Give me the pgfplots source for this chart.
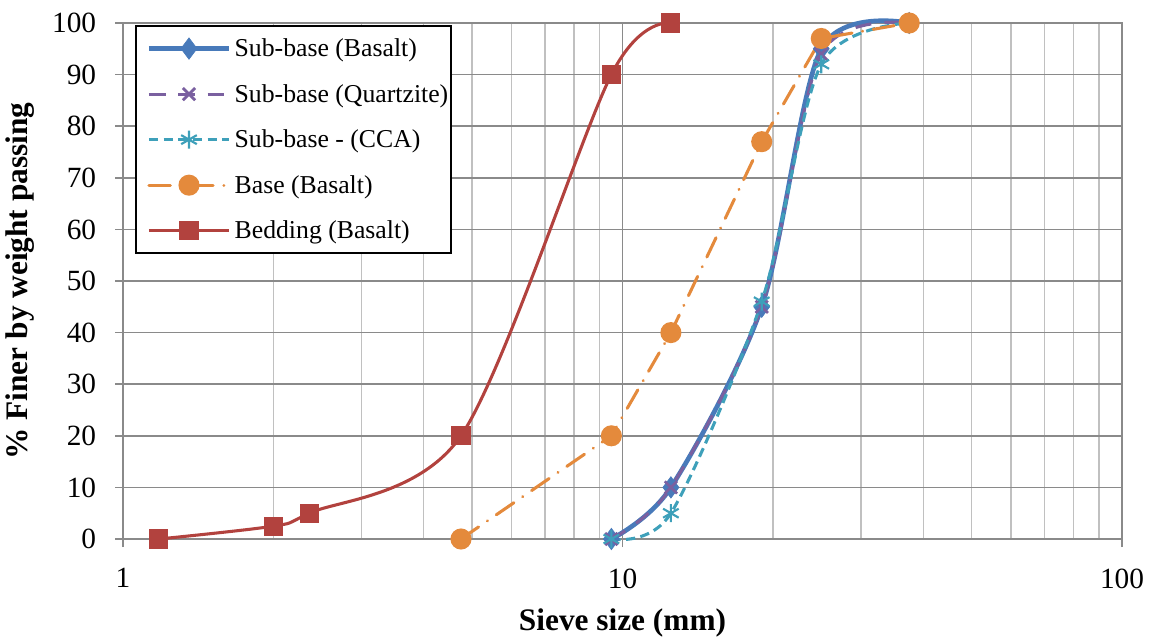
\documentclass[border=0pt]{standalone}
\usepackage{fontspec}
\setmainfont{Liberation Serif}
\usepackage{pgfplots}
\pgfplotsset{compat=1.18}
\definecolor{cBlue}{RGB}{72,122,186}
\definecolor{cPurple}{RGB}{122,96,160}
\definecolor{cTeal}{RGB}{62,160,186}
\definecolor{cOrange}{RGB}{228,138,60}
\definecolor{cRed}{RGB}{178,66,62}
\definecolor{gMajor}{RGB}{138,138,138}
\definecolor{gMinor}{RGB}{192,192,192}
\begin{document}
\begin{tikzpicture}
\useasboundingbox (-92.25pt,-73.5pt) rectangle (769.5pt,404.25pt);
\begin{axis}[
  scale only axis, width=749.25pt, height=387pt,
  xmode=log, log basis x=10,
  xmin=1, xmax=100, ymin=0, ymax=100,
  xtick={1,10,100}, xticklabels={1,10,100},
  minor xtick={2,3,4,5,6,7,8,9,20,30,40,50,60,70,80,90},
  ytick={0,10,...,100},
  grid=both,
  major grid style={line width=1.3pt, draw=gMajor},
  minor grid style={line width=1.1pt, draw=gMinor},
  axis line style={line width=1.3pt, draw=gMajor},
  tick pos=left, tick align=outside,
  major tick length=6pt, minor tick length=0pt,
  tick style={line width=1.3pt, draw=gMajor},
  /pgf/number format/assume math mode=true,
  ticklabel style={font=\fontsize{22}{26}\selectfont},
  xticklabel style={anchor=north, inner sep=0pt, yshift=-16pt},
  yticklabel style={anchor=east, inner sep=0pt, xshift=-14pt},
  xlabel={Sieve size (mm)},
  ylabel={\% Finer by weight passing},
  every axis x label/.style={at={(axis description cs:0.5,0)}, anchor=center, yshift=-63pt, font=\bfseries\fontsize{23.5}{28}\selectfont},
  every axis y label/.style={at={(axis description cs:0,0.5)}, anchor=center, rotate=90, yshift=77pt, font=\bfseries\fontsize{23.5}{28}\selectfont},
  clip=false,
  legend cell align=left,
  legend image code/.code={\path (0pt,0pt); \draw[mark repeat=2,mark phase=2] plot coordinates {(7pt,0pt)(37pt,0pt)(67pt,0pt)};},
  legend style={at={(axis description cs:0,1)}, anchor=north west, xshift=9pt, yshift=-1.5pt,
    draw=black, line width=1.5pt, fill=white, font=\fontsize{19.3}{23}\selectfont,
    row sep=17.25pt, inner xsep=1pt, inner ysep=8.5pt, column sep=1.5pt,
    nodes={inner sep=1pt}},
]
\addplot[cBlue, line width=3.5pt, smooth, mark=diamond*, mark size=8pt, mark options={solid, line width=0.5pt}]
  coordinates {(9.5,0)(12.5,10)(19,45)(25,95)(37.5,100)};
\addlegendentry{Sub-base (Basalt)}
\addplot[cPurple, line width=2.3pt, smooth, dash pattern=on 12pt off 10pt, mark=x, mark size=6.5pt, mark options={solid, line width=2pt}]
  coordinates {(9.5,0)(12.5,10)(19,45)(25,94)(37.5,100)};
\addlegendentry{Sub-base (Quartzite)}
\addplot[cTeal, line width=2.3pt, smooth, dash pattern=on 7pt off 4pt, mark=asterisk, mark size=6.75pt, mark options={solid, line width=1.6pt}]
  coordinates {(9.5,0)(12.5,5)(19,46)(25,92)(37.5,100)};
\addlegendentry{Sub-base - (CCA)}
\addplot[cOrange, line width=2.3pt, line cap=round, dash pattern=on 16pt off 8pt on 0.1pt off 8pt, mark=*, mark size=6.75pt, mark options={solid}]
  coordinates {(4.75,0)(9.5,20)(12.5,40)(19,77)(25,97)(37.5,100)};
\addlegendentry{Base (Basalt)}
\addplot[cRed, line width=2.3pt, smooth, mark=square*, mark size=6pt, mark options={solid}]
  coordinates {(1.18,0)(2,2.5)(2.36,5)(4.75,20)(9.5,90)(12.5,100)};
\addlegendentry{Bedding (Basalt)}
\end{axis}
\end{tikzpicture}
\end{document}
